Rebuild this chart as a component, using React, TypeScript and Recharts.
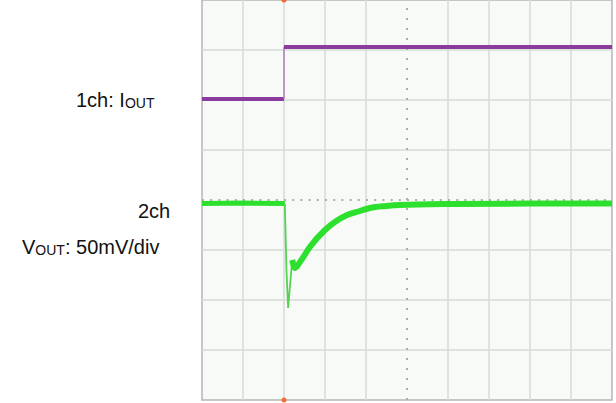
import React from 'react';
import { ComposedChart, Line, XAxis, YAxis, ReferenceLine, ReferenceArea, ReferenceDot } from 'recharts';

// screen is 10 x 8 divisions, values below are in divisions
const gridX = [1, 2, 3, 4, 6, 7, 8, 9];
const gridY = [1, 2, 3, 5, 6, 7];
const centerX = 5;
const centerY = 4;
const triggerT = 2;

// 1ch: IOUT
const ch1LowT = [0, 2];
const ch1LowV = [6.02, 6.02];
const ch1EdgeT = [2, 2];
const ch1EdgeV = [6.02, 7.06];
const ch1HighT = [2, 10];
const ch1HighV = [7.06, 7.06];

// 2ch: VOUT
const ch2BaseT = [0, 1, 2.02];
const ch2BaseV = [3.93, 3.94, 3.93];
const ch2SpikeT = [2.02, 2.06, 2.1, 2.2];
const ch2SpikeV = [3.93, 2.6, 1.84, 2.8];
const ch2RecT = [2.2, 2.27, 2.39, 2.63, 3.0, 3.54, 3.85, 4.1, 4.5, 4.83, 6.05, 8, 10];
const ch2RecV = [2.8, 2.64, 2.76, 3.06, 3.4, 3.7, 3.78, 3.84, 3.88, 3.9, 3.92, 3.93, 3.93];

const zip = (t: number[], v: number[]) => t.map((x, i) => ({ t: x, v: v[i] }));

const PURPLE = '#8b3a9e';
const GREEN = '#2ee02e';
const GRID = '#d6dbd6';

export default function App() {
  return (
    <div style={{ position: 'absolute', left: 0, top: 0, width: 616, height: 403, background: '#fff' }}>
      <ComposedChart width={616} height={403} margin={{ top: 0, right: 4, bottom: 3, left: 202 }}>
        <XAxis type="number" dataKey="t" domain={[0, 10]} hide allowDuplicatedCategory={false} />
        <YAxis type="number" dataKey="v" domain={[0, 8]} hide />
        <ReferenceArea x1={0} x2={10} y1={0} y2={8} fill="#f7faf6" fillOpacity={1} stroke="#b4b8b4" strokeWidth={1.5} />
        {gridX.map((x) => (
          <ReferenceLine key={'x' + x} x={x} stroke={GRID} strokeWidth={1.5} />
        ))}
        {gridY.map((y) => (
          <ReferenceLine key={'y' + y} y={y} stroke={GRID} strokeWidth={1.5} />
        ))}
        <ReferenceLine x={centerX} stroke="#aab0aa" strokeWidth={2} strokeDasharray="2 8" />
        <ReferenceLine y={centerY} stroke="#aab0aa" strokeWidth={2} strokeDasharray="2 6.2" />

        <Line data={zip(ch1LowT, ch1LowV)} dataKey="v" type="linear" stroke={PURPLE} strokeWidth={4} dot={false} isAnimationActive={false} />
        <Line data={zip(ch1EdgeT, ch1EdgeV)} dataKey="v" type="linear" stroke="#b27fbf" strokeWidth={1.5} dot={false} isAnimationActive={false} />
        <Line data={zip(ch1HighT, ch1HighV)} dataKey="v" type="linear" stroke={PURPLE} strokeWidth={4} dot={false} isAnimationActive={false} />

        <Line data={zip(ch2BaseT, ch2BaseV)} dataKey="v" type="linear" stroke={GREEN} strokeWidth={5} dot={false} isAnimationActive={false} />
        <Line data={zip(ch2SpikeT, ch2SpikeV)} dataKey="v" type="linear" stroke="#52d452" strokeWidth={1.8} dot={false} isAnimationActive={false} />
        <Line data={zip(ch2RecT, ch2RecV)} dataKey="v" type="monotone" stroke={GREEN} strokeWidth={6} dot={false} isAnimationActive={false} />

        <ReferenceDot x={triggerT} y={8} r={2.5} fill="#f26b3a" stroke="none" ifOverflow="visible" />
        <ReferenceDot x={triggerT} y={0} r={2.5} fill="#f26b3a" stroke="none" ifOverflow="visible" />
      </ComposedChart>
      <svg width={616} height={403} style={{ position: 'absolute', left: 0, top: 0, pointerEvents: 'none' }}>
        <g fontFamily="'Liberation Sans', Arial, sans-serif" fill="#111">
          <text x={76} y={107} fontSize={20}>
            1ch: I<tspan fontSize={14} dy={1}>OUT</tspan>
          </text>
          <text x={138} y={218} fontSize={20}>2ch</text>
          <text x={22} y={254} fontSize={20}>
            V<tspan fontSize={14} dy={1}>OUT</tspan>
            <tspan dy={-1}>: 50mV/div</tspan>
          </text>
        </g>
      </svg>
    </div>
  );
}
